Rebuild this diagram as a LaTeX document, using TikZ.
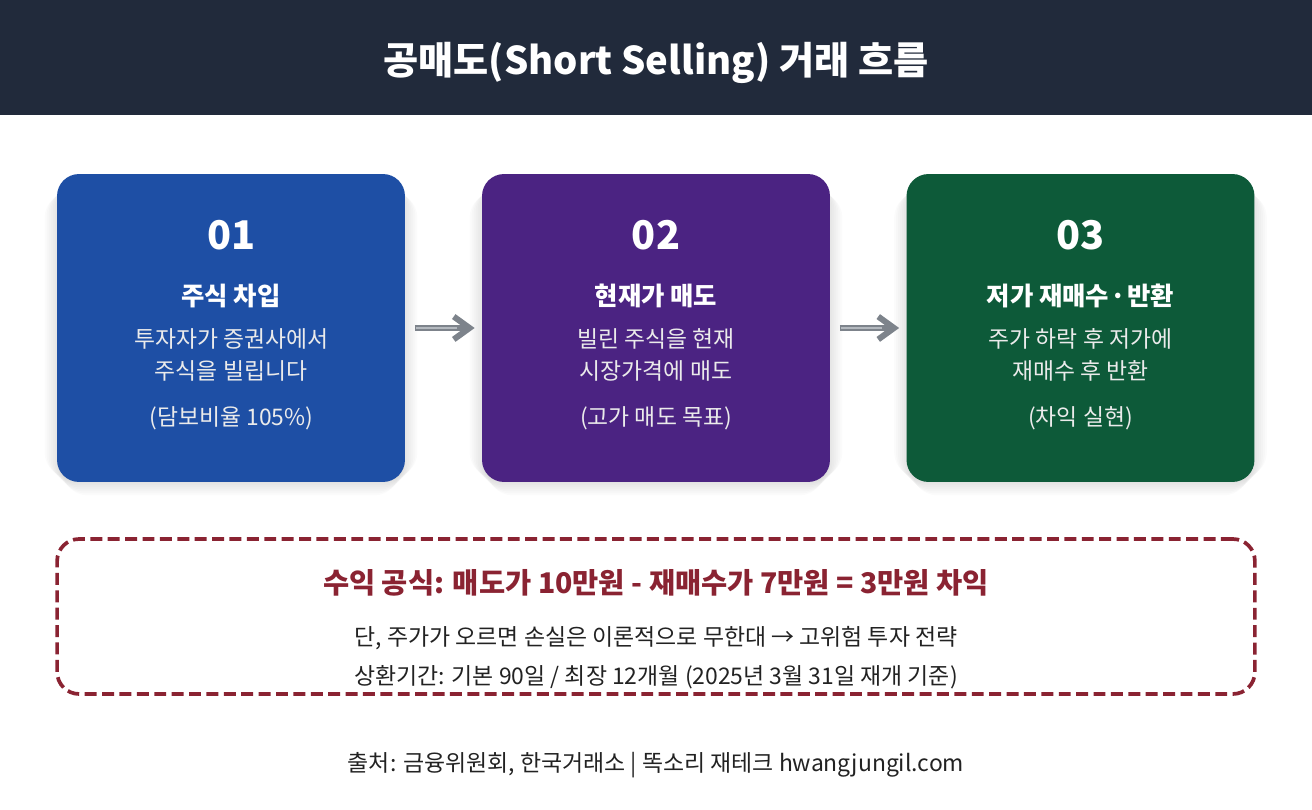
\documentclass[tikz,border=0pt]{standalone}
\usepackage{fontspec}
\setmainfont{Noto Sans CJK KR}
\usetikzlibrary{arrows.meta,backgrounds}
\definecolor{headbg}{HTML}{212A3B}
\definecolor{blueb}{HTML}{1E4FA5}
\definecolor{purpb}{HTML}{4B2382}
\definecolor{greenb}{HTML}{0D5A39}
\definecolor{warnc}{HTML}{8A2332}
\definecolor{bodyc}{HTML}{222222}
\definecolor{arrowc}{HTML}{7D838B}
\definecolor{arrowl}{HTML}{B4B9BF}
\tikzset{
  card/.style={minimum width=6.96cm,minimum height=6.16cm,rounded corners=0.44cm,inner sep=0pt,text=white},
  numt/.style={anchor=base,text=white,font=\fontsize{22.5}{26}\selectfont\bfseries},
  headt/.style={anchor=base,text=white,font=\fontsize{14.45}{17}\selectfont\bfseries},
  bodyt/.style={anchor=base,text=white!92!black,font=\fontsize{13}{16}\selectfont},
  notet/.style={anchor=base,text=bodyc,font=\fontsize{13.05}{16}\selectfont},
  flowa/.style={line width=3.8pt,draw=arrowc,shorten <=5.5pt,shorten >=4pt,-{Straight Barb[length=9pt,width=13pt,line width=3.4pt]}},
  flowb/.style={line width=1pt,draw=arrowl,shorten <=6pt,shorten >=14pt},
}
\begin{document}
\begin{tikzpicture}[x=0.02cm,y=-0.02cm]
\useasboundingbox (0,0) rectangle (1312,810);
\node[fill=headbg,minimum width=26.24cm,minimum height=2.3cm,inner sep=0pt,anchor=north west] (header) at (0,0) {};
\node[anchor=base,text=white,font=\fontsize{21.75}{26}\selectfont\bfseries] (title) at (656,74.5) {공매도(Short Selling) 거래 흐름};
% cards
\node[card,fill=blueb] (card1) at (231,328) {};
\node[card,fill=purpb] (card2) at (656,328) {};
\node[card,fill=greenb] (card3) at (1080.5,328) {};
\begin{scope}[on background layer]
\foreach \c in {card1,card2,card3}
  \foreach \s in {-6,-4,-2,0,2,4,6,8,10,12}
    \fill[black,opacity=0.014,rounded corners=0.5cm] ([shift={(-\s,-\s+7)}]\c.south west) rectangle ([shift={(\s,\s+7)}]\c.north east);
\end{scope}
\draw[flowa] (card1) -- (card2);
\draw[flowb] (card1) -- (card2);
\draw[flowa] (card2) -- (card3);
\draw[flowb] (card2) -- (card3);
% card 1
\node[numt] (num1) at (231.5,250) {01};
\node[headt] (head1) at (231,306) {주식 차입};
\node[bodyt] (body1a) at (231.5,348) {투자자가 증권사에서};
\node[bodyt] (body1b) at (231,380) {주식을 빌립니다};
\node[bodyt] (body1c) at (231.5,426) {(담보비율 105\%)};
% card 2
\node[numt] (num2) at (656,250) {02};
\node[headt] (head2) at (656,306) {현재가 매도};
\node[bodyt] (body2a) at (656,348) {빌린 주식을 현재};
\node[bodyt] (body2b) at (656,380) {시장가격에 매도};
\node[bodyt] (body2c) at (656,426) {(고가 매도 목표)};
% card 3
\node[numt] (num3) at (1080.5,250) {03};
\node[headt] (head3) at (1080.5,306) {저가 재매수\kern-2.5pt{} · \kern-2.5pt 반환};
\node[bodyt] (body3a) at (1080.5,348) {주가 하락 후 저가에};
\node[bodyt] (body3b) at (1080.5,380) {재매수 후 반환};
\node[bodyt] (body3c) at (1080.5,426) {(차익 실현)};
% formula box
\node[draw=warnc,line width=2.1pt,dash pattern=on 6.8pt off 3.1pt,rounded corners=0.44cm,minimum width=23.96cm,minimum height=3.1cm,inner sep=0pt] (formula) at (656,616.5) {};
\node[anchor=base,text=warnc,font=\fontsize{16.2}{19}\selectfont\bfseries] (profit) at (656,594) {수익 공식: 매도가 10만원 - 재매수가 7만원 = 3만원 차익};
\node[notet] (risk) at (656,645) {단, 주가가 오르면 손실은 이론적으로 무한대 → 고위험 투자 전략};
\node[notet] (term) at (656,684) {상환기간: 기본 90일 / 최장 12개월 (2025년 3월 31일 재개 기준)};
\node[notet] (source) at (656,771) {출처: 금융위원회, 한국거래소 | 똑소리 재테크 hwangjungil.com};
\end{tikzpicture}
\end{document}
